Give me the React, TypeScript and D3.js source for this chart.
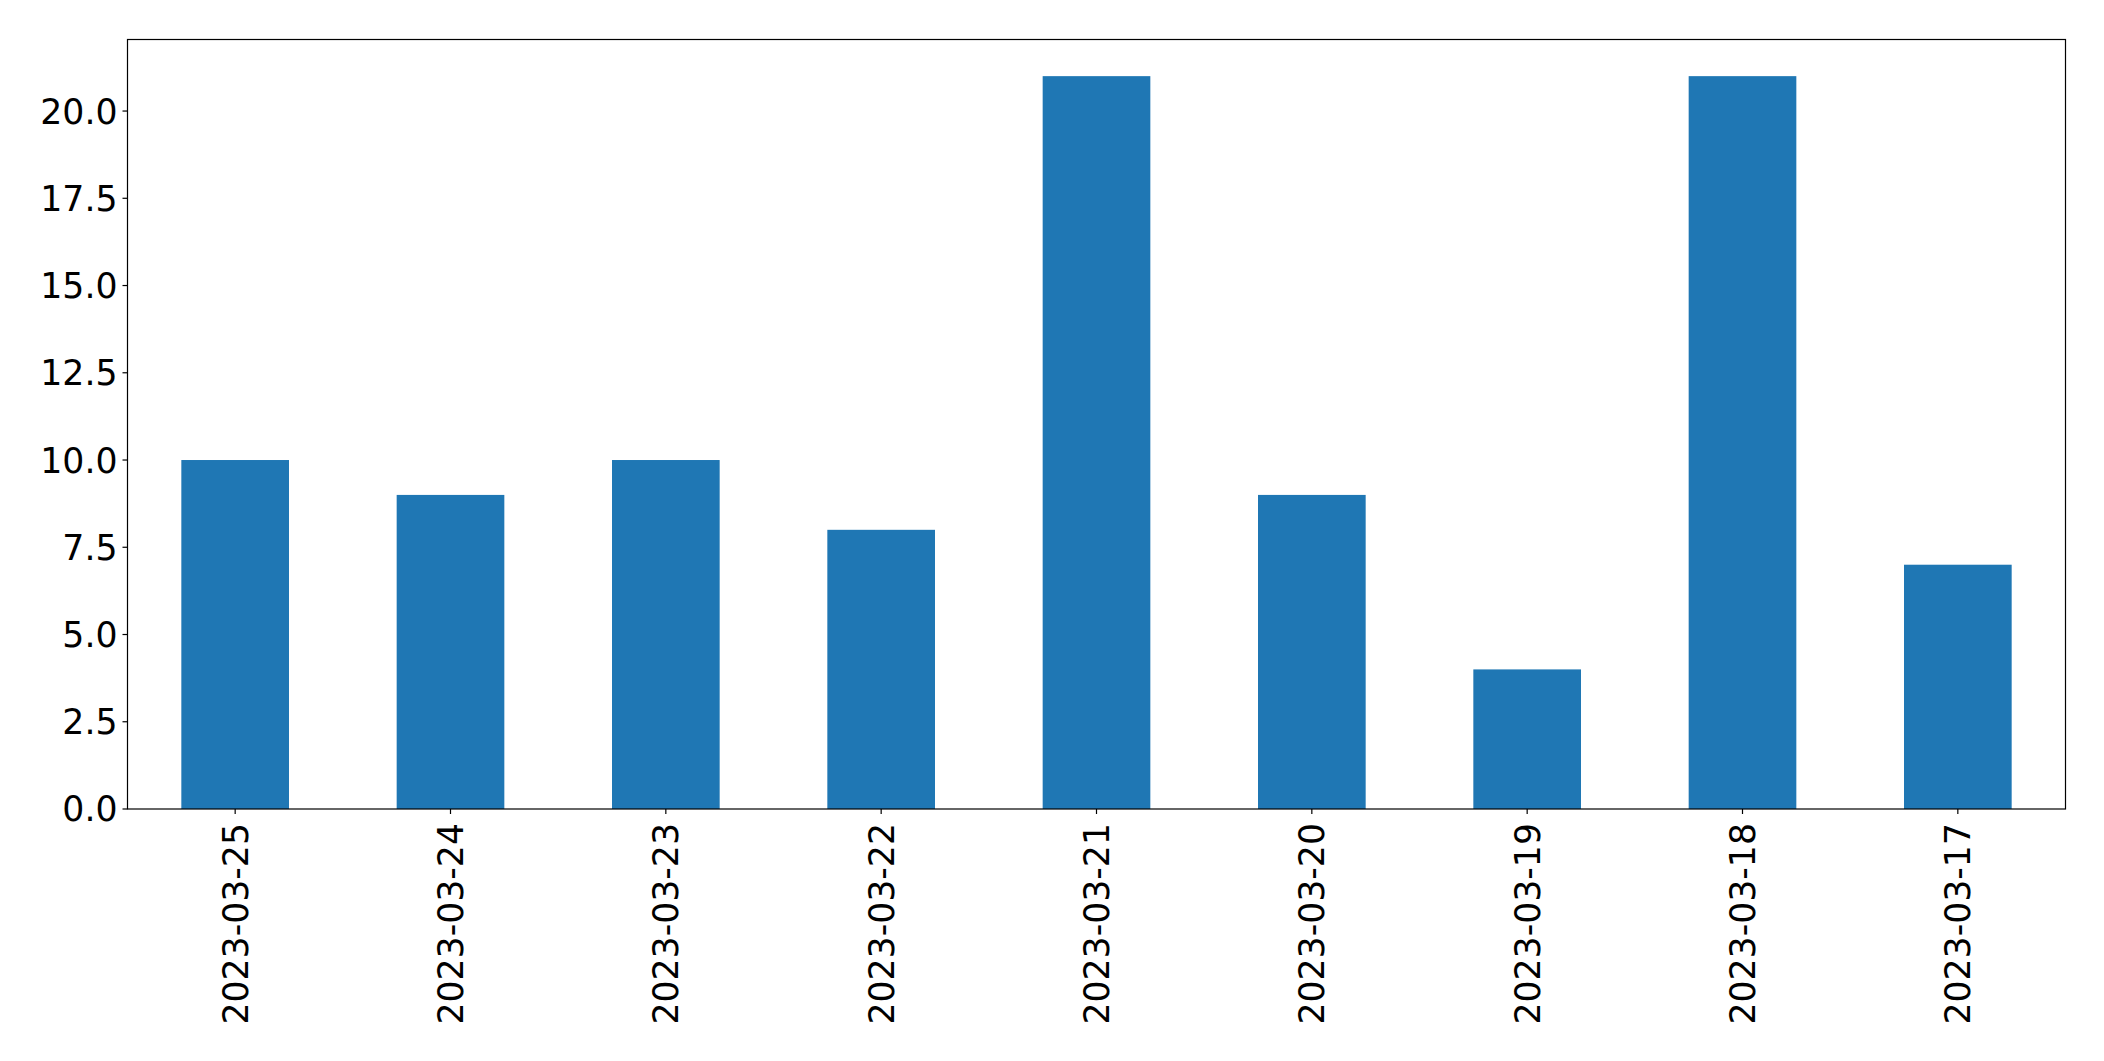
import React from "react";
import * as d3 from "d3";

const categories = ["2023-03-25", "2023-03-24", "2023-03-23", "2023-03-22", "2023-03-21", "2023-03-20", "2023-03-19", "2023-03-18", "2023-03-17"];
const values = [10, 9, 10, 8, 21, 9, 4, 21, 7];
const yTicks = [0, 2.5, 5, 7.5, 10, 12.5, 15, 17.5, 20];

const W = 2104, H = 1061;
const left = 127.5, right = 2065.5, top = 39.5, bottom = 809;
const FS = 34.7;

export default function App() {
  const x = d3.scaleBand<string>().domain(categories).range([left, right]).paddingInner(0.5).paddingOuter(0.25);
  const y = d3.scaleLinear().domain([0, d3.max(values)! * 1.05]).range([bottom, top]);
  return (
    <svg width={W} height={H} style={{ position: "absolute", left: 0, top: 0, background: "#fff" }} fontFamily="DejaVu Sans">
      <rect x={0} y={0} width={W} height={H} fill="#fff" />
      {categories.map((c, i) => (
        <rect key={c} x={x(c)} y={y(values[i])} width={x.bandwidth()} height={y(0) - y(values[i])} fill="#1f77b4" />
      ))}
      <rect x={left} y={top} width={right - left} height={bottom - top} fill="none" stroke="#000" strokeWidth={1.2} />
      {yTicks.map((t) => (
        <g key={t}>
          <line x1={left - 5} x2={left} y1={y(t)} y2={y(t)} stroke="#000" strokeWidth={1.2} />
          <text x={left - 10} y={y(t)} dy="0.36em" textAnchor="end" fontSize={FS} fill="#000">{t.toFixed(1)}</text>
        </g>
      ))}
      {categories.map((c) => {
        const cx = x(c)! + x.bandwidth() / 2;
        return (
          <g key={c}>
            <line x1={cx} x2={cx} y1={bottom} y2={bottom + 5} stroke="#000" strokeWidth={1.2} />
            <text transform={`translate(${cx},${bottom + 14}) rotate(-90)`} textAnchor="end" dy="0.36em" fontSize={FS} fill="#000">{c}</text>
          </g>
        );
      })}
    </svg>
  );
}
